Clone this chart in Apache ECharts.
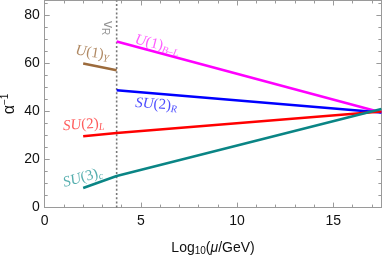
<!DOCTYPE html>
<html><head><meta charset="utf-8">
<script src="https://cdn.jsdelivr.net/npm/echarts@6/dist/echarts.min.js"></script>
<style>html,body{margin:0;padding:0;background:#fff;overflow:hidden}#c{width:382px;height:256px}</style>
</head><body><div id="c"></div>
<script>
// ---- data ----
const vR = 3.74;
const xMin = 0, xMax = 17.5, yMin = 0, yMax = 86;
const u1yX = [2, vR];          const u1yY = [59.8, 57.0];
const su2lX = [2, vR, 17.5];   const su2lY = [29.6, 31.0, 39.9];
const su3cX = [2, vR, 17.5];   const su3cY = [8.1, 13.1, 40.9];
const u1blX = [vR, 17.5];      const u1blY = [69.0, 39.5];
const su2rX = [vR, 17.5];      const su2rY = [48.7, 39.5];
const labelNames = ['U(1)_Y', 'U(1)_{B-L}', 'SU(2)_R', 'SU(2)_L', 'SU(3)_c', 'v_R'];

// ---- styles ----
const cBrown = '#9c6b3c', cMag = '#ff00ff', cBlue = '#0000ff', cRed = '#ff0000', cTeal = '#0a8585';
const frame = '#9a9a9a';
const serif = '"Liberation Serif", "DejaVu Serif", serif';
const sans = '"Liberation Sans", Arial, sans-serif';

function pts(xs, ys) { return xs.map((x, i) => [x, ys[i]]); }

function richFor(color, size) {
  return {
    i: { fontFamily: serif, fontStyle: 'italic', fontSize: size, color: color },
    n: { fontFamily: serif, fontSize: size, color: color },
    s: { fontFamily: serif, fontStyle: 'italic', fontSize: size * 0.68, color: color, padding: [size * 0.5, 0, 0, 0] }
  };
}

const annotations = [
  { value: [2.48, 64.2], fmt: '{i|U}{n|(1)}{s|Y}', color: cBrown, rot: -9 },
  { value: [5.85, 67.6], fmt: '{i|U}{n|(1)}{s|B\u2013L}', color: '#ff33ff', rot: -14 },
  { value: [5.8, 42.8], fmt: '{i|SU}{n|(2)}{s|R}', color: '#2222ff', rot: -4 },
  { value: [2.02, 34.4], fmt: '{i|SU}{n|(2)}{s|L}', color: '#ff3333', rot: 4 },
  { value: [1.98, 12.4], fmt: '{i|SU}{n|(3)}{s|c}', color: '#2a9a9a', rot: 16 },
  { value: [3.3, 74.5], fmt: '{v|v}{vs|R}', color: '#777', rot: -90 }
];

const lineSeries = (name, data, color) => ({
  name, type: 'line', data, symbol: 'none', xAxisIndex: 0, yAxisIndex: 0,
  lineStyle: { color, width: 2.6 }, itemStyle: { color }, z: 3, animation: false
});

const axisCommon = (grid, pos, interval, len, labels, isX, line) => ({
  type: 'value', gridIndex: grid, position: pos,
  min: isX ? xMin : yMin, max: isX ? xMax : yMax, interval,
  axisLine: { show: line, onZero: false, lineStyle: { color: frame, width: 1 } },
  axisTick: { show: true, inside: true, length: len, lineStyle: { color: frame } },
  splitLine: { show: false },
  axisLabel: labels ? {
    show: true, color: '#111', fontFamily: sans, fontSize: 14,
    margin: isX ? 7 : 5, showMaxLabel: false
  } : { show: false }
});

const gridBox = { left: 44.7, right: 0.6, top: 0.5, bottom: 48.4, containLabel: false, outerBoundsMode: 'none' };

const chart = echarts.init(document.getElementById('c'), null, { renderer: 'canvas' });
chart.setOption({
  animation: false,
  backgroundColor: '#fff',
  grid: [Object.assign({}, gridBox), Object.assign({}, gridBox)],
  graphic: [{
    type: 'text', x: 10, y: 104, rotation: Math.PI / 2, silent: true,
    style: {
      text: '{a|\u03b1}{s|\u22121}', align: 'center', verticalAlign: 'middle',
      rich: {
        a: { fontFamily: sans, fontSize: 16, fill: '#111' },
        s: { fontFamily: sans, fontSize: 10, fill: '#111', padding: [0, 0, 9, 0] }
      }
    }
  }],
  xAxis: [
    Object.assign(axisCommon(0, 'bottom', 5, 5, true, true, true), {
      name: '{a|Log}{b|10}{a|(}{m|\u03bc}{a|/GeV)}', nameLocation: 'middle', nameGap: 32,
      nameTextStyle: { rich: {
        a: { fontFamily: sans, fontSize: 14, color: '#111' },
        m: { fontFamily: sans, fontStyle: 'italic', fontSize: 14, color: '#111' },
        b: { fontFamily: sans, fontSize: 10, color: '#111', padding: [7, 0, 0, 0] }
      } }
    }),
    axisCommon(0, 'top', 5, 5, false, true, true),
    axisCommon(1, 'bottom', 1, 3, false, true, false),
    axisCommon(1, 'top', 1, 3, false, true, false)
  ],
  yAxis: [
    axisCommon(0, 'left', 20, 5, true, false, true),
    axisCommon(0, 'right', 20, 5, false, false, true),
    axisCommon(1, 'left', 5, 3, false, false, false),
    axisCommon(1, 'right', 5, 3, false, false, false)
  ],
  series: [
    Object.assign(lineSeries('vR', [[vR, yMin], [vR, yMax]], 'rgba(0,0,0,0)'), {
      lineStyle: { color: '#777', width: 1.6, type: [2, 2.2] }, z: 2
    }),
    lineSeries(labelNames[0], pts(u1yX, u1yY), cBrown),
    lineSeries(labelNames[1], pts(u1blX, u1blY), cMag),
    lineSeries(labelNames[2], pts(su2rX, su2rY), cBlue),
    lineSeries(labelNames[3], pts(su2lX, su2lY), cRed),
    lineSeries(labelNames[4], pts(su3cX, su3cY), cTeal),
    {
      type: 'scatter', symbolSize: 0, z: 5, silent: true, xAxisIndex: 0, yAxisIndex: 0,
      data: annotations.map((a, k) => ({
        name: labelNames[k], value: a.value,
        label: {
          show: true, position: 'inside', align: 'center', verticalAlign: 'middle',
          rotate: a.rot, formatter: a.fmt,
          rich: Object.assign(richFor(a.color, 15), {
            v: { fontFamily: sans, fontSize: 14, color: a.color },
            vs: { fontFamily: sans, fontSize: 10, color: a.color, padding: [7, 0, 0, 0] }
          })
        }
      }))
    }
  ]
});
</script></body></html>
